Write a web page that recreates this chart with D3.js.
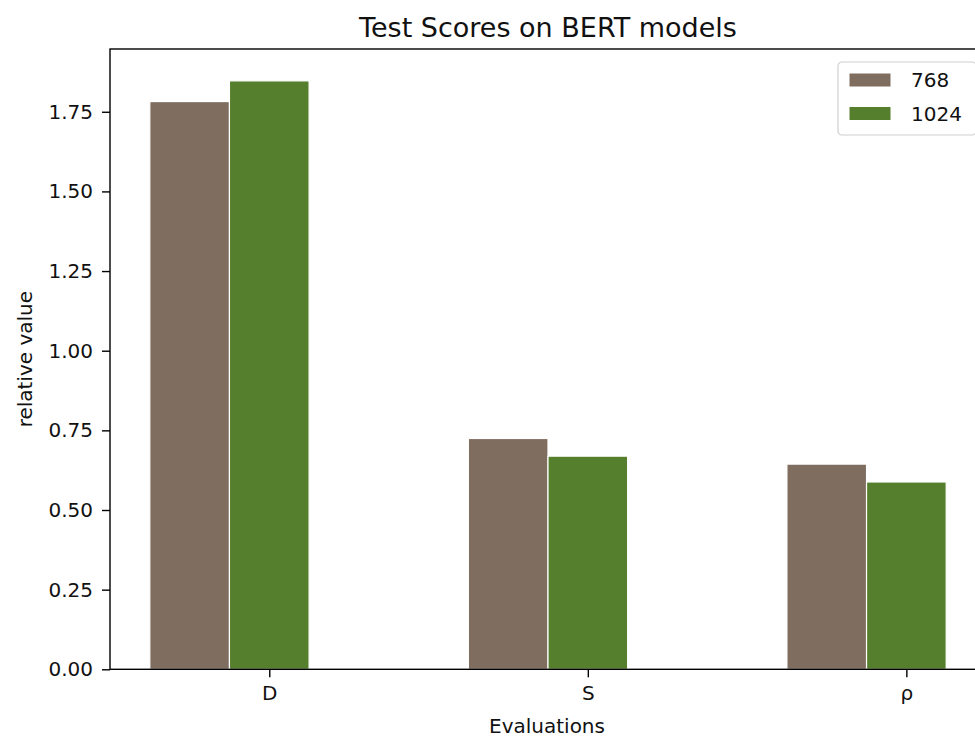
<!DOCTYPE html>
<html>
<head>
<meta charset="utf-8">
<script src="https://cdn.jsdelivr.net/npm/d3@7"></script>
<style>
  html, body { margin: 0; padding: 0; background: #fff; }
  svg { display: block; font-family: "DejaVu Sans", sans-serif; }
</style>
</head>
<body>
<svg id="chart" width="975" height="739"></svg>
<script>
// Evaluation categories and the scores of the two BERT hidden sizes
const categories = ["D", "S", "ρ"];
const series = ["768", "1024"];
const values768 = [1.782, 0.7245, 0.644];
const values1024 = [1.847, 0.669, 0.588];
const yTicks = [0, 0.25, 0.5, 0.75, 1.0, 1.25, 1.5, 1.75];
const colors = ["#7f6d5f", "#557f2d"];

const seriesValues = [values768, values1024];
const barWidth = 0.25;

const svg = d3.select("#chart");

// plot area (right spine falls just outside the canvas)
const plot = { left: 110, right: 986, top: 49, bottom: 669.3 };

const x = d3.scaleLinear().domain([-0.25, 2.5]).range([plot.left, plot.right]);
const y = d3.scaleLinear().domain([0, 1.947]).range([plot.bottom, plot.top]);

// bars: series i sits at category index + i * barWidth
seriesValues.forEach((vals, si) => {
  svg.append("g")
    .selectAll("rect")
    .data(vals)
    .join("rect")
    .attr("x", (d, i) => x(i + si * barWidth - barWidth / 2))
    .attr("width", x(barWidth) - x(0))
    .attr("y", d => y(d))
    .attr("height", d => y(0) - y(d))
    .attr("fill", colors[si])
    .attr("stroke", "#fff")
    .attr("stroke-width", 1.2);
});

// y axis
const yAxis = d3.axisLeft(y)
  .tickValues(yTicks)
  .tickFormat(d3.format(".2f"))
  .tickSize(8)
  .tickPadding(9);
const gy = svg.append("g").attr("transform", `translate(${plot.left},0)`).call(yAxis);
gy.select(".domain").remove();
gy.selectAll(".tick line").attr("stroke", "#000").attr("stroke-width", 1.4);
gy.selectAll(".tick text")
  .attr("font-size", 20)
  .attr("fill", "#111")
  .attr("font-family", "DejaVu Sans");

// x axis: ticks centred on the 1024 bars
const xAxis = d3.axisBottom(x)
  .tickValues(categories.map((c, i) => i + barWidth))
  .tickFormat((d, i) => categories[i])
  .tickSize(8)
  .tickPadding(9);
const gx = svg.append("g").attr("transform", `translate(0,${plot.bottom})`).call(xAxis);
gx.select(".domain").remove();
gx.selectAll(".tick line").attr("stroke", "#000").attr("stroke-width", 1.4);
gx.selectAll(".tick text")
  .attr("font-size", 20)
  .attr("fill", "#111")
  .attr("font-family", "DejaVu Sans");

// spines
svg.append("rect")
  .attr("x", plot.left).attr("y", plot.top)
  .attr("width", plot.right - plot.left).attr("height", plot.bottom - plot.top)
  .attr("fill", "none")
  .attr("stroke", "#000")
  .attr("stroke-width", 1.4);

// title and axis labels
svg.append("text")
  .attr("x", 548).attr("y", 37)
  .attr("text-anchor", "middle")
  .attr("font-size", 27)
  .attr("fill", "#111")
  .text("Test Scores on BERT models");

svg.append("text")
  .attr("x", 547).attr("y", 733)
  .attr("text-anchor", "middle")
  .attr("font-size", 20)
  .attr("fill", "#111")
  .text("Evaluations");

svg.append("text")
  .attr("transform", `translate(32,${(plot.top + plot.bottom) / 2}) rotate(-90)`)
  .attr("text-anchor", "middle")
  .attr("font-size", 20)
  .attr("fill", "#111")
  .text("relative value");

// legend
const lg = svg.append("g").attr("transform", "translate(838,62)");
lg.append("rect")
  .attr("x", 0).attr("y", 0)
  .attr("width", 138).attr("height", 73)
  .attr("rx", 4)
  .attr("fill", "#fff").attr("fill-opacity", 0.8)
  .attr("stroke", "#d0d0d0").attr("stroke-width", 1.2);
series.forEach((s, i) => {
  const cy = 18 + i * 33.5;
  lg.append("rect")
    .attr("x", 11).attr("y", cy - 7)
    .attr("width", 42).attr("height", 14)
    .attr("fill", colors[i])
    .attr("stroke", "#fff").attr("stroke-width", 1);
  lg.append("text")
    .attr("x", 73).attr("y", cy + 7)
    .attr("font-size", 20)
    .attr("fill", "#111")
    .text(s);
});
</script>
</body>
</html>
